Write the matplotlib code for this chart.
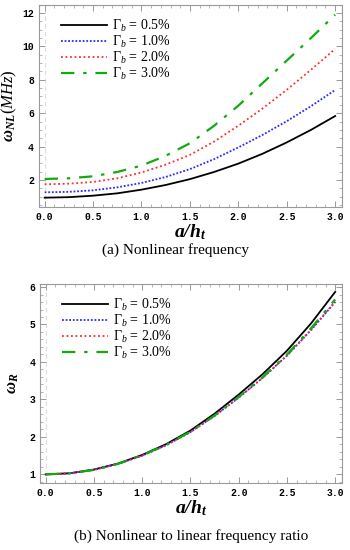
import numpy as np
import matplotlib
matplotlib.use("Agg")
import matplotlib.pyplot as plt
from matplotlib.ticker import MultipleLocator

plt.rcParams['mathtext.fontset'] = 'custom'
plt.rcParams['mathtext.rm'] = 'Liberation Serif'
plt.rcParams['mathtext.it'] = 'Liberation Serif:italic'
plt.rcParams['mathtext.bf'] = 'Liberation Serif:bold:italic'

# a/h_t values
a_h = [0, 0.25, 0.5, 0.75, 1.0, 1.25, 1.5, 1.75, 2.0, 2.25, 2.5, 2.75, 3.0]

# (a) nonlinear frequency (MHz)
wnl_05 = [0.94, 0.97, 1.06, 1.20, 1.42, 1.70, 2.05, 2.48, 2.98, 3.57, 4.25, 5.00, 5.83]
wnl_10 = [1.26, 1.29, 1.38, 1.56, 1.82, 2.18, 2.65, 3.25, 3.95, 4.70, 5.52, 6.42, 7.39]
wnl_20 = [1.74, 1.78, 1.88, 2.10, 2.45, 2.92, 3.50, 4.30, 5.25, 6.28, 7.40, 8.60, 9.85]
wnl_30 = [2.06, 2.10, 2.22, 2.48, 2.86, 3.45, 4.20, 5.25, 6.45, 7.80, 9.15, 10.50, 11.90]

# (b) nonlinear to linear frequency ratio
wr_05 = [1.00, 1.03, 1.13, 1.29, 1.52, 1.81, 2.17, 2.62, 3.13, 3.68, 4.30, 5.03, 5.87]
wr_10 = [1.00, 1.03, 1.12, 1.28, 1.50, 1.78, 2.13, 2.56, 3.05, 3.58, 4.17, 4.85, 5.60]
wr_20 = [1.00, 1.03, 1.12, 1.28, 1.50, 1.78, 2.13, 2.56, 3.05, 3.58, 4.17, 4.86, 5.61]
wr_30 = [1.00, 1.03, 1.12, 1.28, 1.51, 1.79, 2.14, 2.57, 3.07, 3.60, 4.20, 4.90, 5.67]

labels = [r'$\mathit{\Gamma_b}$ = 0.5%', r'$\mathit{\Gamma_b}$ = 1.0%',
          r'$\mathit{\Gamma_b}$ = 2.0%', r'$\mathit{\Gamma_b}$ = 3.0%']

styles = [dict(color='black', lw=1.3, ls='-'),
          dict(color='#2b2bff', lw=1.3, ls=(0, (1, 1))),
          dict(color='#ff2b2b', lw=1.3, ls=(0, (1, 1.5))),
          dict(color='#11aa11', lw=1.6, ls=(0, (6, 4, 1.5, 4)))]

fig = plt.figure(figsize=(3.5, 5.5), dpi=100)
ax1 = fig.add_axes([0.111, 0.6236, 0.866, 0.3673])
ax2 = fig.add_axes([0.114, 0.1218, 0.863, 0.3618])

def style_axes(ax):
    for s in ax.spines.values():
        s.set_color('#999999')
        s.set_linewidth(0.8)
    ax.tick_params(which='both', direction='in', top=True, right=True,
                   color='#999999')
    ax.tick_params(which='major', length=4, width=0.7)
    ax.tick_params(which='minor', length=2, width=0.5)
    ax.axvline(0, color='#dddddd', lw=0.8, ls=(0, (4, 3)), zorder=0)
    ax.set_xlim(-0.06, 3.07)
    ax.xaxis.set_minor_locator(MultipleLocator(0.1))
    ax.set_xticks([0, 0.5, 1.0, 1.5, 2.0, 2.5, 3.0])
    ax.set_xticklabels(['0.0', '0.5', '1.0', '1.5', '2.0', '2.5', '3.0'],
                       fontfamily='Liberation Mono', fontweight='bold', fontsize=7)
    ax.set_xlabel(r'$\mathbf{a/h_t}$', fontsize=14, labelpad=0)
    ax.legend(loc='upper left', bbox_to_anchor=(0.055, 0.965), frameon=False,
              handlelength=3.3, handletextpad=0.4, labelspacing=0.0,
              prop={'family': 'Liberation Serif', 'size': 10}, borderaxespad=0)

series_a = [wnl_05, wnl_10, wnl_20, wnl_30]
for ys, st, lab in zip(series_a, styles, labels):
    ax1.plot(a_h, ys, label=lab, **st)
ax1.set_ylim(0.38, 12.48)
ax1.set_yticks([2, 4, 6, 8, 10, 12])
ax1.set_yticklabels(['2', '4', '6', '8', '10', '12'], fontfamily='Liberation Mono',
                    fontweight='bold', fontsize=7)
ax1.yaxis.set_minor_locator(MultipleLocator(0.5))
style_axes(ax1)
ax1.set_ylabel(r'$\mathbf{\omega_{NL}}\mathit{(MHz)}$', fontsize=12, labelpad=2)

series_b = [wr_05, wr_10, wr_20, wr_30]
for ys, st, lab in zip(series_b, styles, labels):
    ax2.plot(a_h, ys, label=lab, **st)
ax2.set_ylim(0.77, 6.08)
ax2.set_yticks([1, 2, 3, 4, 5, 6])
ax2.set_yticklabels(['1', '2', '3', '4', '5', '6'], fontfamily='Liberation Mono',
                    fontweight='bold', fontsize=7)
ax2.yaxis.set_minor_locator(MultipleLocator(0.2))
style_axes(ax2)
ax2.set_ylabel(r'$\mathbf{\omega_R}$', fontsize=12, labelpad=6)

fig.text(0.5, 1 - 250 / 550, '(a) Nonlinear frequency', ha='center', va='center',
         family='Liberation Serif', fontsize=11)
fig.text(0.545, 1 - 536 / 550, '(b) Nonlinear to linear frequency ratio', ha='center',
         va='center', family='Liberation Serif', fontsize=11)

plt.savefig("out.png", dpi=100)
